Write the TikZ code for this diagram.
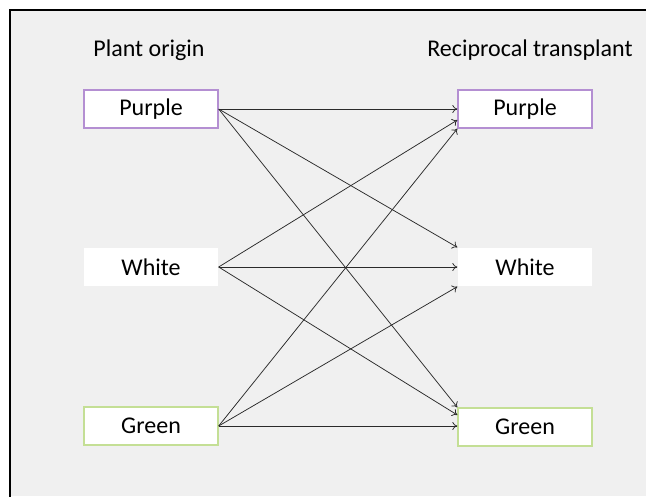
\documentclass[tikz,border=0pt]{standalone}
\usepackage{fontspec}
\setmainfont{Carlito}
\usetikzlibrary{arrows.meta}
\definecolor{bggray}{HTML}{F0F0F0}
\definecolor{boxpurple}{HTML}{B48FD2}
\definecolor{boxgreen}{HTML}{C4DF95}
\definecolor{linegray}{HTML}{2A2A2A}
\begin{document}
\begin{tikzpicture}[x=1pt,y=-1pt,
  box/.style={fill=white, minimum width=134pt, minimum height=38pt, inner sep=0pt, font=\fontsize{24}{28}\selectfont, line width=1.3pt},
  pbox/.style={box, draw=boxpurple},
  gbox/.style={box, draw=boxgreen},
  wbox/.style={box},
  title/.style={font=\fontsize{24}{28}\selectfont, inner sep=0pt},
  conn/.style={draw=linegray, line width=0.75pt, -{To[length=5pt,width=8pt]}}
]
\useasboundingbox (0,0) rectangle (646,496);
\fill[white] (0,0) rectangle (646,496);
\fill[bggray] (10,10) rectangle (646,496);
\draw[black, line width=2pt] (10,497) -- (10,10) -- (646,10);

\node[title] (t1) at (149,50) {Plant origin};
\node[title] (t2) at (530,50) {Reciprocal transplant};

\node[pbox] (lp) at (151,109) {Purple};
\node[wbox] (lw) at (151,267) {White};
\node[gbox] (lg) at (151,426) {Green};

\node[pbox] (rp) at (525,109) {Purple};
\node[wbox] (rw) at (525,267) {White};
\node[gbox] (rg) at (525,427) {Green};

\coordinate (rpw) at ([yshift=-11pt]rp.west);
\coordinate (rgw) at ([yshift=12pt]rg.west);

\draw[conn] (lp.east) -- (rp.west);
\draw[conn] (lp.east) -- (rw.north west);
\draw[conn] (lp.east) -- (rg.north west);
\draw[conn] (lw.east) -- (rpw);
\draw[conn] (lw.east) -- (rw.west);
\draw[conn] (lw.east) -- (rgw);
\draw[conn] (lg.east) -- (rp.south west);
\draw[conn] (lg.east) -- (rw.south west);
\draw[conn] (lg.east) -- (lg.east -| rg.west);
\end{tikzpicture}
\end{document}
